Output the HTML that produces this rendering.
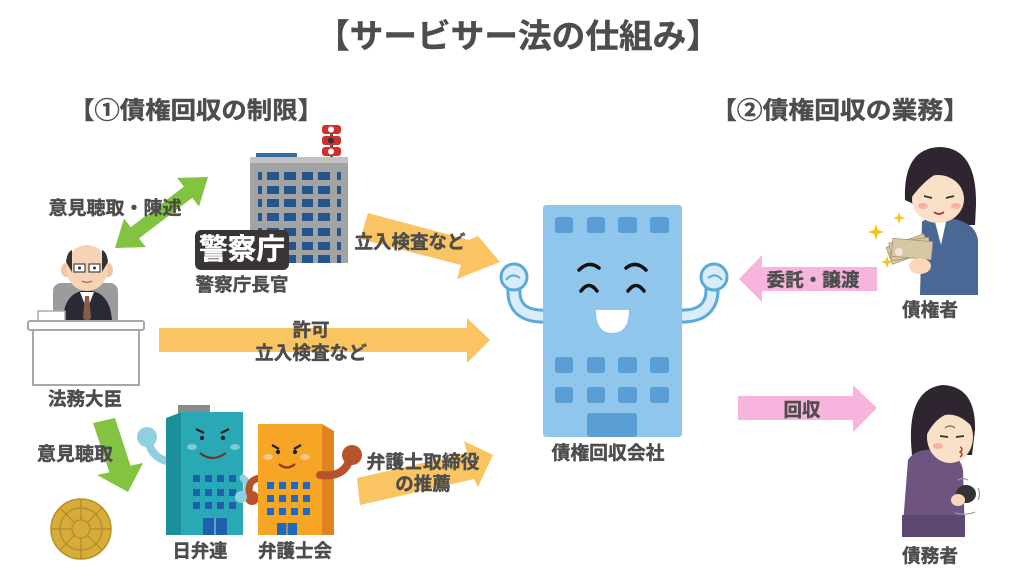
<!DOCTYPE html>
<html><head><meta charset="utf-8">
<style>
html,body{margin:0;padding:0;background:#fff;}
svg{display:block;}
text{font-family:"Liberation Sans","Noto Sans CJK JP",sans-serif;font-weight:bold;fill:#4d4d4d;stroke:#4d4d4d;stroke-width:0.4;}
</style></head>
<body>
<svg width="1024" height="576" viewBox="0 0 1024 576" xmlns="http://www.w3.org/2000/svg">
<rect width="1024" height="576" fill="#fff"/>

<!-- Titles -->
<text x="518" y="36" font-size="33" text-anchor="middle" dominant-baseline="central" textLength="404" lengthAdjust="spacingAndGlyphs">【サービサー法の仕組み】</text>
<text x="196" y="111" font-size="24" text-anchor="middle" dominant-baseline="central" textLength="254" lengthAdjust="spacingAndGlyphs">【①債権回収の制限】</text>
<text x="840" y="111" font-size="24" text-anchor="middle" dominant-baseline="central" textLength="258" lengthAdjust="spacingAndGlyphs">【②債権回収の業務】</text>

<!-- Police building -->
<rect x="256" y="153" width="41" height="4" fill="#3a6aa0"/>
<rect x="250" y="157" width="98" height="106" fill="#a3a3a3"/>
<rect x="250" y="157" width="98" height="6" fill="#c2c2c2"/>
<g fill="#24568c">
  <g id="wrow">
    <rect x="258" y="172" width="4" height="8"/>
    <rect x="267" y="172" width="12" height="8"/>
    <rect x="284" y="172" width="12" height="8"/>
    <rect x="302" y="172" width="11" height="8"/>
    <rect x="318" y="172" width="12" height="8"/>
    <rect x="337" y="172" width="4" height="8"/>
  </g>
  <use href="#wrow" y="14"/>
  <use href="#wrow" y="27"/>
  <use href="#wrow" y="41"/>
  <use href="#wrow" y="56"/>
  <use href="#wrow" y="70"/>
  <use href="#wrow" y="83"/>
</g>
<!-- signal -->
<rect x="330" y="128" width="3" height="29" fill="#555"/>
<rect x="322" y="125" width="19" height="9" rx="3" fill="#d0312d"/>
<rect x="322" y="136" width="19" height="9" rx="3" fill="#d0312d"/>
<rect x="322" y="147" width="19" height="9" rx="3" fill="#d0312d"/>
<circle cx="331" cy="129.5" r="3" fill="#fff"/>
<circle cx="331" cy="140.5" r="3" fill="#333"/>
<circle cx="331" cy="151.5" r="3" fill="#fff"/>

<!-- 警察庁 box -->
<rect x="195" y="230" width="94" height="40" rx="6" fill="#3a3535"/>
<text x="242" y="250" font-size="29" text-anchor="middle" dominant-baseline="central" style="fill:#fff;stroke:#fff" textLength="86" lengthAdjust="spacingAndGlyphs">警察庁</text>
<text x="242" y="285" font-size="18" text-anchor="middle" dominant-baseline="central" textLength="93" lengthAdjust="spacingAndGlyphs">警察庁長官</text>

<!-- green double arrow -->
<polygon fill="#82c341" points="115,248 124,218.5 130.7,227.2 183.9,186.6 177.2,177.9 208,177 199,206.5 192.3,197.8 139.1,238.4 145.8,247.1"/>
<text x="115" y="208" font-size="18.5" text-anchor="middle" dominant-baseline="central" textLength="133" lengthAdjust="spacingAndGlyphs">意見聴取・陳述</text>

<!-- yellow arrow 立入検査など (upper) -->
<polygon fill="#f9c461" points="368,213 469,240 478,236 500,262 457,279 461,265 360,239"/>
<text x="410" y="242" font-size="18.5" text-anchor="middle" dominant-baseline="central" textLength="111" lengthAdjust="spacingAndGlyphs">立入検査など</text>

<!-- Minister -->
<rect x="53" y="283" width="65" height="44" rx="8" fill="#9c9c9c"/>
<path d="M63 322 Q63 292 87 290 Q111 292 112 322 Z" fill="#2a2a35"/>
<path d="M80 292 L87 310 L94 292 Z" fill="#fff"/>
<path d="M85 296 L89 296 L91 318 L87 322 L83 318 Z" fill="#8a5a48"/>
<ellipse cx="66" cy="270" rx="5" ry="7" fill="#f2c6a5"/>
<ellipse cx="108" cy="270" rx="5" ry="7" fill="#f2c6a5"/>
<ellipse cx="87" cy="268" rx="21" ry="23" fill="#f7d3b5"/>
<path d="M66 262 Q67 252 72 250 L72 272 Z" fill="#333"/>
<path d="M108 262 Q107 252 102 250 L102 272 Z" fill="#333"/>
<rect x="74" y="264" width="11" height="8" fill="#fff" stroke="#444" stroke-width="1.2"/>
<rect x="89" y="264" width="11" height="8" fill="#fff" stroke="#444" stroke-width="1.2"/>
<circle cx="79.5" cy="268" r="1.5" fill="#333"/>
<circle cx="94.5" cy="268" r="1.5" fill="#333"/>
<path d="M82 281 Q87 284 92 281" stroke="#a55" stroke-width="1.3" fill="none"/>
<rect x="38" y="311" width="27" height="11" fill="#fff" stroke="#aaa" stroke-width="1.5"/>
<rect x="33" y="329" width="106" height="56" fill="#fff" stroke="#a8a8a8" stroke-width="2"/>
<rect x="28" y="321" width="116" height="9" rx="2" fill="#fff" stroke="#a8a8a8" stroke-width="2"/>
<text x="85" y="399" font-size="18.5" text-anchor="middle" dominant-baseline="central" textLength="74" lengthAdjust="spacingAndGlyphs">法務大臣</text>

<!-- big yellow arrow -->
<polygon fill="#f9c461" points="159,328 467,328 467,318 490,340 467,363 467,352 159,352"/>
<text x="311" y="330" font-size="18.5" text-anchor="middle" dominant-baseline="central">許可</text>
<text x="311" y="353" font-size="18.5" text-anchor="middle" dominant-baseline="central" textLength="112" lengthAdjust="spacingAndGlyphs">立入検査など</text>

<!-- green down arrow -->
<polygon fill="#82c341" points="93,423 115,418 130.5,465.6 143,463 128,492 97,475 109.5,472.4"/>
<text x="75" y="454" font-size="18.5" text-anchor="middle" dominant-baseline="central" textLength="76" lengthAdjust="spacingAndGlyphs">意見聴取</text>

<!-- coin badge -->
<circle cx="81" cy="529" r="30" fill="#d6ad3a" stroke="#b8902a" stroke-width="1.5"/>
<g stroke="#b28a28" stroke-width="1.2" fill="none">
  <circle cx="81" cy="529" r="21"/>
  <circle cx="81" cy="529" r="9"/>
  <path d="M81 499 L81 520 M81 538 L81 559 M51 529 L72 529 M90 529 L111 529 M60 508 L75 523 M87 535 L102 550 M102 508 L87 523 M75 535 L60 550"/>
</g>

<!-- 日弁連 teal building -->
<path d="M172 462 Q152 460 148 440" stroke="#8fcfe0" stroke-width="8" fill="none" stroke-linecap="round"/>
<circle cx="147" cy="437" r="10" fill="#8fcfe0"/>
<rect x="178" y="405" width="32" height="9" fill="#8a8a8a"/>
<polygon points="166,418 182,412 182,535 166,535" fill="#1c8f9c"/>
<rect x="181" y="412" width="62" height="123" fill="#29a8b6"/>
<path d="M196 429 L204 433 M229 429 L221 433" stroke="#222" stroke-width="2.2"/>
<circle cx="202" cy="438" r="2.2" fill="#222"/>
<circle cx="223" cy="438" r="2.2" fill="#222"/>
<ellipse cx="192" cy="447" rx="5" ry="3" fill="#7fc9d2"/>
<ellipse cx="235" cy="447" rx="5" ry="3" fill="#7fc9d2"/>
<path d="M200 453 Q212 463 226 453" stroke="#6b3a2a" stroke-width="2.2" fill="none"/>
<g fill="#1e5fb0">
  <g id="trow">
    <rect x="193" y="475" width="7" height="7"/>
    <rect x="205" y="475" width="7" height="7"/>
    <rect x="217" y="475" width="7" height="7"/>
    <rect x="229" y="475" width="7" height="7"/>
  </g>
  <use href="#trow" y="14"/>
  <use href="#trow" y="27"/>
  <rect x="203" y="518" width="24" height="17"/>
</g>
<line x1="215" y1="518" x2="215" y2="535" stroke="#8fcfe0" stroke-width="1.2"/>
<path d="M243 478 Q252 486 242 496" stroke="#8fcfe0" stroke-width="7" fill="none" stroke-linecap="round"/>

<!-- 弁護士会 orange building -->
<path d="M260 478 Q246 480 250 496" stroke="#b8522a" stroke-width="7" fill="none" stroke-linecap="round"/>
<circle cx="252" cy="498" r="7" fill="#b8522a"/>
<circle cx="241" cy="497" r="6" fill="#8fcfe0"/>
<rect x="258" y="424" width="64" height="111" fill="#f6a524"/>
<polygon points="322,424 334,431 334,535 322,535" fill="#e0841f"/>
<path d="M320 475 Q345 478 350 458" stroke="#b8522a" stroke-width="8" fill="none" stroke-linecap="round"/>
<circle cx="352" cy="455" r="10" fill="#b8522a"/>
<path d="M272 445 L279 449 M301 445 L294 449" stroke="#222" stroke-width="2.2"/>
<circle cx="278" cy="452" r="2.2" fill="#222"/>
<circle cx="295" cy="452" r="2.2" fill="#222"/>
<ellipse cx="268" cy="457" rx="5" ry="3" fill="#f9c48a"/>
<ellipse cx="305" cy="457" rx="5" ry="3" fill="#f9c48a"/>
<path d="M279 464 Q287 471 295 464" stroke="#8a3a1a" stroke-width="2.2" fill="none"/>
<g fill="#1e6ac0">
  <g id="orow">
    <rect x="267" y="482" width="7" height="7"/>
    <rect x="279" y="482" width="7" height="7"/>
    <rect x="291" y="482" width="7" height="7"/>
    <rect x="303" y="482" width="7" height="7"/>
  </g>
  <use href="#orow" y="13"/>
  <use href="#orow" y="26"/>
  <rect x="277" y="523" width="20" height="12"/>
</g>
<line x1="287" y1="523" x2="287" y2="535" stroke="#f6a524" stroke-width="1.2"/>
<text x="200" y="551" font-size="18.5" text-anchor="middle" dominant-baseline="central" textLength="55" lengthAdjust="spacingAndGlyphs">日弁連</text>
<text x="295" y="551" font-size="18.5" text-anchor="middle" dominant-baseline="central" textLength="74" lengthAdjust="spacingAndGlyphs">弁護士会</text>

<!-- yellow arrow 弁護士取締役の推薦 -->
<polygon fill="#f9c461" points="357,478 467,453 464,441 493,455 478,487 474,479 360,505"/>
<text x="423" y="462" font-size="18.5" text-anchor="middle" dominant-baseline="central" textLength="113" lengthAdjust="spacingAndGlyphs">弁護士取締役</text>
<text x="423" y="484" font-size="18.5" text-anchor="middle" dominant-baseline="central">の推薦</text>

<!-- central building arms -->
<g fill="none" stroke-linecap="round">
  <path d="M548 316 Q512 318 514 288" stroke="#5aaad8" stroke-width="15"/>
  <path d="M548 316 Q512 318 514 288" stroke="#d8ecf9" stroke-width="9"/>
  <path d="M677 316 Q713 318 712 288" stroke="#5aaad8" stroke-width="15"/>
  <path d="M677 316 Q713 318 712 288" stroke="#d8ecf9" stroke-width="9"/>
</g>
<circle cx="514" cy="277" r="13" fill="#d8ecf9" stroke="#5aaad8" stroke-width="3"/>
<circle cx="714" cy="277" r="13" fill="#d8ecf9" stroke="#5aaad8" stroke-width="3"/>
<path d="M506 280 Q512 272 520 278" stroke="#5aaad8" stroke-width="2" fill="none"/>
<path d="M722 280 Q716 272 708 278" stroke="#5aaad8" stroke-width="2" fill="none"/>
<!-- central building -->
<rect x="543" y="205" width="139" height="232" rx="3" fill="#91c6ec"/>
<g fill="#5a9ed6">
  <g id="crow">
    <rect x="555" y="217" width="18" height="16" rx="3"/>
    <rect x="587" y="217" width="18" height="16" rx="3"/>
    <rect x="618" y="217" width="19" height="16" rx="3"/>
    <rect x="650" y="217" width="19" height="16" rx="3"/>
  </g>
  <use href="#crow" y="140"/>
  <use href="#crow" y="170"/>
  <rect x="587" y="413" width="50" height="24" rx="3"/>
</g>
<g stroke="#111" stroke-width="3.5" fill="none" stroke-linecap="round">
  <path d="M579 270 Q589 260 599 268"/>
  <path d="M626 268 Q636 260 646 270"/>
  <path d="M581 291 Q589 280 597 291"/>
  <path d="M628 291 Q636 280 644 291"/>
</g>
<path d="M596 310 L629 310 Q629 333 612 333 Q596 333 596 310 Z" fill="#fff"/>
<text x="608" y="453" font-size="18.5" text-anchor="middle" dominant-baseline="central" textLength="113" lengthAdjust="spacingAndGlyphs">債権回収会社</text>

<!-- pink arrows -->
<polygon fill="#f7b5de" points="739,279 762,255 762,267 877,267 877,291 762,291 762,302"/>
<text x="813" y="280" font-size="18.5" text-anchor="middle" dominant-baseline="central" textLength="93" lengthAdjust="spacingAndGlyphs">委託・譲渡</text>
<polygon fill="#f7b5de" points="738,396 853,396 853,385 877,408 853,432 853,420 738,420"/>
<text x="802" y="410" font-size="18.5" text-anchor="middle" dominant-baseline="central">回収</text>

<!-- creditor -->
<path d="M905 200 Q903 148 940 147 Q977 148 976 205 L975 225 L958 225 Z" fill="#2e2530"/>
<path d="M922 222 Q924 218 945 218 Q975 220 978 240 L978 295 L920 295 Z" fill="#4a6896"/>
<path d="M935 222 L946 222 L941 245 Z" fill="#fff"/>
<ellipse cx="938" cy="199" rx="26" ry="24" fill="#fbe0c8"/>
<path d="M911 198 Q912 158 942 157 Q968 160 966 192 Q955 175 940 172 Q926 178 911 198 Z" fill="#2e2530"/>
<path d="M924 196 L932 198 M946 198 L954 196" stroke="#333" stroke-width="1.8"/>
<ellipse cx="923" cy="206" rx="5" ry="3" fill="#f8b0a8"/>
<ellipse cx="956" cy="206" rx="5" ry="3" fill="#f8b0a8"/>
<path d="M934 212 Q939 216 944 212" stroke="#b03030" stroke-width="1.6" fill="none"/>
<g fill="#d6c8a4" stroke="#a89870" stroke-width="0.8">
  <rect x="888" y="240" width="40" height="18" transform="rotate(-20 908 249)"/>
  <rect x="890" y="240" width="40" height="18" transform="rotate(-8 910 249)"/>
  <rect x="892" y="240" width="40" height="18" transform="rotate(5 912 249)"/>
</g>
<circle cx="899" cy="252" r="4" fill="#efe7d2"/>
<ellipse cx="920" cy="266" rx="11" ry="8" fill="#fbd6b8"/>
<g fill="#f5c518">
  <path d="M876 224 L878 230 L884 232 L878 234 L876 240 L874 234 L868 232 L874 230 Z"/>
  <path d="M899 212 L900.5 216.5 L905 218 L900.5 219.5 L899 224 L897.5 219.5 L893 218 L897.5 216.5 Z"/>
  <path d="M887 256 L888.5 260.5 L893 262 L888.5 263.5 L887 268 L885.5 263.5 L881 262 L885.5 260.5 Z"/>
</g>
<text x="930" y="310" font-size="18.5" text-anchor="middle" dominant-baseline="central" textLength="56" lengthAdjust="spacingAndGlyphs">債権者</text>

<!-- debtor -->
<path d="M912 455 Q905 390 942 385 Q976 386 975 430 L972 455 Z" fill="#2e2530"/>
<path d="M908 460 Q915 448 935 450 Q960 452 963 470 L965 537 L902 537 Z" fill="#6e5580"/>
<rect x="902" y="515" width="63" height="22" fill="#5e4770"/>
<ellipse cx="950" cy="437" rx="23" ry="26" fill="#fbe0c8"/>
<path d="M926 436 Q928 400 950 398 Q974 400 975 430 Q960 412 945 415 Q934 420 926 436 Z" fill="#2e2530"/>
<path d="M940 436 L948 437 M956 437 L964 436" stroke="#333" stroke-width="1.8"/>
<path d="M945 428 Q950 424 955 428" stroke="#6b4a3a" stroke-width="1" fill="none"/>
<ellipse cx="938" cy="446" rx="5" ry="3" fill="#f8b0a8"/>
<path d="M960 447 Q964 449 960 452 Q964 454 960 457" stroke="#b03030" stroke-width="1.4" fill="none"/>
<path d="M925 480 Q935 505 955 502" stroke="#6e5580" stroke-width="10" fill="none" stroke-linecap="round"/>
<ellipse cx="966" cy="494" rx="10" ry="9" fill="#333"/>
<ellipse cx="958" cy="500" rx="7" ry="6" fill="#fbd6b8"/>
<path d="M958 480 Q963 477 968 480 M978 488 Q981 494 978 500 M955 513 Q965 516 975 512" stroke="#999" stroke-width="1.2" fill="none"/>
<text x="930" y="556" font-size="18.5" text-anchor="middle" dominant-baseline="central" textLength="56" lengthAdjust="spacingAndGlyphs">債務者</text>
</svg>
</body></html>
